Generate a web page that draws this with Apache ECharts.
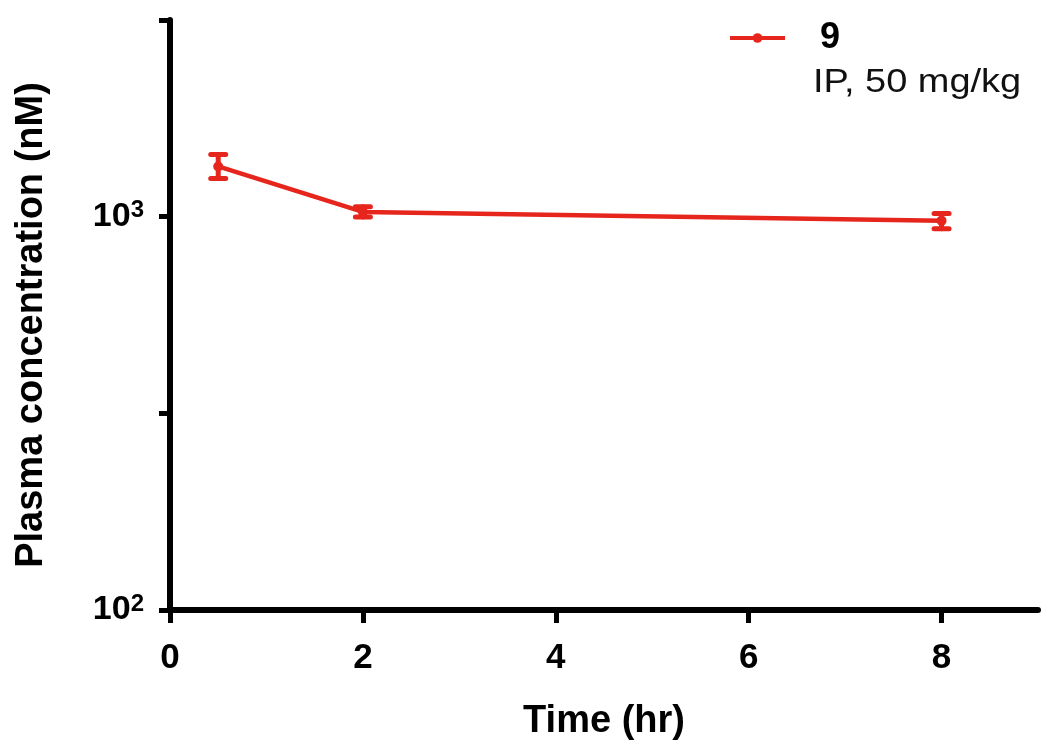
<!DOCTYPE html>
<html>
<head>
<meta charset="utf-8">
<script src="https://cdn.jsdelivr.net/npm/echarts@6/dist/echarts.min.js"></script>
<style>html,body{margin:0;padding:0;background:#fff;}#c{width:1050px;height:756px;}</style>
</head>
<body>
<div id="c"></div>
<script>
// Data
const timesHr = [0.5, 2, 8];
const meanConc = [1342, 1028, 977];
const lowerConc = [1250, 998, 932];
const upperConc = [1439, 1060, 1018];
const xTicks = [0, 2, 4, 6, 8];
const seriesName = '9';
const seriesSubtitle = 'IP, 50 mg/kg';
const yTitle = 'Plasma concentration (nM)';
const xTitle = 'Time (hr)';

const RED = '#E6261D';
const FONT = '"Liberation Sans", Arial, Helvetica, sans-serif';

const lineData = timesHr.map((t, i) => [t, meanConc[i]]);
const errData = timesHr.map((t, i) => [t, lowerConc[i], upperConc[i]]);

const chart = echarts.init(document.getElementById('c'), null, {renderer: 'canvas'});
chart.setOption({
  animation: false,
  backgroundColor: '#fff',
  grid: {left: 170, right: 12, top: 20, bottom: 146, containLabel: false},
  legend: {
    left: 728, top: 20, padding: 0,
    itemWidth: 55, itemHeight: 12,
    data: [seriesName],
    lineStyle: {width: 4},
    textStyle: {fontFamily: FONT, fontSize: 36, fontWeight: 'bold', color: '#000', padding: [0, 0, 0, 30], lineHeight: 36}
  },
  graphic: [
    {
      type: 'text', x: 813, y: 66, scaleX: 1.15,
      style: {text: seriesSubtitle, font: '33px ' + FONT, fill: '#111', textAlign: 'left', textVerticalAlign: 'top'}
    },
    {
      type: 'text', x: 32, y: 325, rotation: Math.PI / 2,
      style: {text: yTitle, font: 'bold 38px ' + FONT, fill: '#000', textAlign: 'center', textVerticalAlign: 'middle'}
    }
  ],
  xAxis: {
    type: 'value', min: 0, max: 9, interval: 2,
    name: xTitle, nameLocation: 'middle', nameGap: 93,
    nameTextStyle: {fontFamily: FONT, fontSize: 38, fontWeight: 'bold', color: '#000'},
    axisLine: {lineStyle: {color: '#000', width: 6}},
    axisTick: {show: true, length: 13, lineStyle: {color: '#000', width: 5}, customValues: xTicks},
    axisLabel: {customValues: xTicks, margin: 31, fontFamily: FONT, fontSize: 35, fontWeight: 'bold', color: '#000'},
    splitLine: {show: false}
  },
  yAxis: {
    type: 'log', logBase: Math.sqrt(10), min: 100, max: Math.pow(10, 3.5),
    axisLine: {show: true, lineStyle: {color: '#000', width: 6}},
    axisTick: {show: true, length: 11, lineStyle: {color: '#000', width: 5}},
    axisLabel: {
      margin: 26,
      formatter: function (v) {
        const e = Math.log10(v);
        if (Math.abs(e - Math.round(e)) < 1e-6 && Math.round(e) < 3.4) {
          return '{b|10}{s|' + Math.round(e) + '}';
        }
        return '';
      },
      rich: {
        b: {fontFamily: FONT, fontSize: 34, fontWeight: 'bold', color: '#000', lineHeight: 36},
        s: {fontFamily: FONT, fontSize: 24, fontWeight: 'bold', color: '#000', verticalAlign: 'top', lineHeight: 20}
      }
    },
    splitLine: {show: false}
  },
  series: [
    {
      name: seriesName, type: 'line', data: lineData,
      symbol: 'circle', symbolSize: 10,
      itemStyle: {color: RED},
      lineStyle: {color: RED, width: 4.5},
      z: 3
    },
    {
      name: 'err', type: 'custom', data: errData,
      z: 4,
      renderItem: function (params, api) {
        const x = api.value(0);
        const lo = api.coord([x, api.value(1)]);
        const hi = api.coord([x, api.value(2)]);
        const hw = 7.5;
        const style = {stroke: RED, lineWidth: 5, lineCap: 'round'};
        return {
          type: 'group',
          children: [
            {type: 'line', shape: {x1: lo[0], y1: lo[1], x2: hi[0], y2: hi[1]}, style: style},
            {type: 'line', shape: {x1: lo[0] - hw, y1: lo[1], x2: lo[0] + hw, y2: lo[1]}, style: style},
            {type: 'line', shape: {x1: hi[0] - hw, y1: hi[1], x2: hi[0] + hw, y2: hi[1]}, style: style}
          ]
        };
      }
    }
  ]
});
</script>
</body>
</html>
